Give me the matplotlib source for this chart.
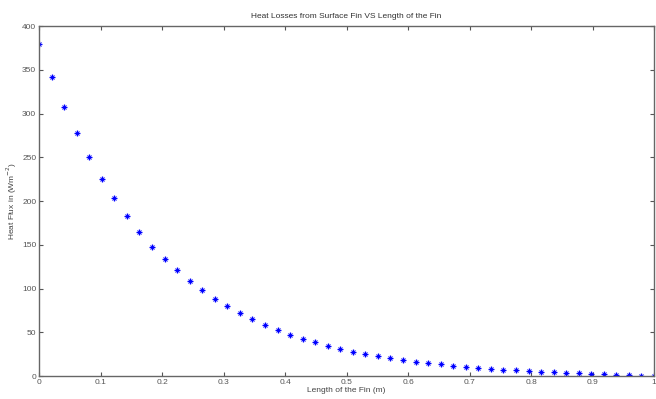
import numpy as np
import matplotlib.pyplot as plt

# fin length positions (50 evenly spaced points from 0 to 1 m)
fin_length = np.linspace(0, 1, 50)

# heat flux values
heat_flux = [380, 342, 308, 278, 250, 225, 203, 183, 165, 148,
             134, 121, 109, 98, 88, 80, 72, 65, 58, 52.5,
             47, 42.5, 38.5, 34.5, 31, 28, 25.3, 22.8, 20.4, 18.3,
             16.4, 14.7, 13.2, 11.8, 10.5, 9.3, 8.3, 7.3, 6.4, 5.6,
             4.9, 4.2, 3.6, 3.0, 2.5, 2.0, 1.5, 1.0, 0.5, 0.0]

x_ticks = np.arange(0, 1.01, 0.1)
x_tick_labels = ["0", "0.1", "0.2", "0.3", "0.4", "0.5", "0.6", "0.7", "0.8", "0.9", "1"]
y_ticks = np.arange(0, 401, 50)

plt.rcParams['font.family'] = ['Liberation Sans', 'DejaVu Sans']

fig = plt.figure(figsize=(6.56, 3.99), dpi=100)
ax = fig.add_axes([0.0595, 0.0576, 0.9375, 0.8772])

# matlab '*' marker: a plus and a smaller cross
ax.plot(fin_length, heat_flux, linestyle='none', marker='+', color='#0000ff',
        markersize=5, markeredgewidth=0.9)
ax.plot(fin_length, heat_flux, linestyle='none', marker='x', color='#0000ff',
        markersize=3, markeredgewidth=0.7)

ax.set_xlim(0, 1)
ax.set_ylim(0, 400)
ax.set_xticks(x_ticks)
ax.set_xticklabels(x_tick_labels)
ax.set_yticks(y_ticks)

# matlab style box with inward ticks on all sides
ax.tick_params(direction='in', top=True, right=True, length=3, width=0.8,
               labelsize=6, colors='#555555', pad=2)
for s in ax.spines.values():
    s.set_color('#666666')
    s.set_linewidth(1.0)

ax.set_title("Heat Losses from Surface Fin VS Length of the Fin", fontsize=6, color='#333333', pad=6)
ax.set_xlabel("Length of the Fin (m)", fontsize=6, color='#444444', labelpad=1)
ax.set_ylabel("Heat Flux in (Wm$^{-2}$)", fontsize=6, color='#444444', labelpad=2)

fig.savefig("out.png", dpi=100)
